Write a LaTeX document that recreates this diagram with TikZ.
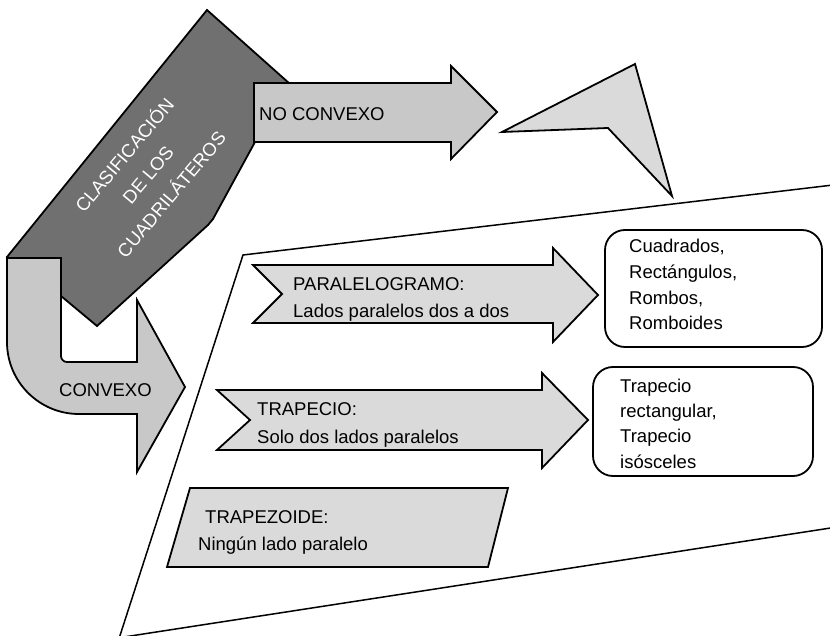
\documentclass[tikz,border=0pt]{standalone}
\usepackage{fontspec}
\setmainfont{Liberation Sans}
\definecolor{darkfill}{RGB}{112, 112, 112}
\definecolor{midfill}{RGB}{200, 200, 200}
\definecolor{lightfill}{RGB}{218, 218, 218}

\begin{document}
\begin{tikzpicture}[x=1pt, y=-1pt,
    darkpart/.style={draw, line width=1.8pt, fill=darkfill},
    midpart/.style={draw, line width=1.8pt, fill=midfill},
    lightpart/.style={draw, line width=1.8pt, fill=lightfill},
    roundbox/.style={draw, line width=1.8pt, rounded corners=20pt},
    txt/.style={anchor=base west, inner sep=0pt, align=left,
                font=\fontsize{18.5}{28}\selectfont}]
        \clip (0, 0) rectangle (830, 636);
        % marco
        \draw[line width=1.5pt] (850, 183) -- (243, 255) -- (119.3, 637.7) -- (850, 525);
        % titulo
        \draw[darkpart] (7, 257) -- (207, 10) -- (290, 84) -- (270, 120)
            -- (255, 142) -- (213, 219) -- (208, 225) -- (97, 326) -- (61, 296) -- cycle;
        \node[rotate=50, text=white, align=center,
              font=\fontsize{18.5}{30.6}\selectfont] (titulo) at (147, 174)
            {CLASIFICACIÓN\\DE LOS\\CUADRILÁTEROS};
        % no convexo
        \draw[midpart] (254, 83) -- (451, 83) -- (451, 66) -- (497, 112)
            -- (451, 159) -- (451, 142) -- (254, 142) -- cycle;
        \node[txt] (noconvexo) at (259, 121) {NO CONVEXO};
        \draw[lightpart] (502, 132) -- (635, 64) -- (672, 196) -- (608, 128) -- cycle;
        % convexo
        \draw[midpart] (7, 258) -- (61, 258) -- (61, 356)
            arc[start angle=180, end angle=270, radius=6pt] -- (137, 362)
            -- (137, 300) -- (185, 387) -- (137, 472) -- (137, 414) -- (79, 414)
            arc[start angle=270, end angle=180, radius=72pt] -- cycle;
        \node[txt] (convexo) at (59, 396) {CONVEXO};
        % paralelogramo
        \draw[lightpart] (253, 265) -- (553, 265) -- (553, 248) -- (598, 295)
            -- (553, 342) -- (553, 323) -- (253, 323) -- (282, 294) -- cycle;
        \node[txt] (paralelogramo) at (293, 318)
            {PARALELOGRAMO:\\Lados paralelos dos a dos};
        % trapecio
        \draw[lightpart] (217, 390) -- (542, 390) -- (542, 373) -- (588, 420)
            -- (542, 468) -- (542, 450) -- (217, 450) -- (250, 420) -- cycle;
        \node[txt] (trapecio) at (257, 443)
            {TRAPECIO:\\Solo dos lados paralelos};
        % trapezoide
        \draw[lightpart] (190, 488) -- (508, 488) -- (488, 567) -- (167, 567) -- cycle;
        \node[txt, font=\fontsize{18.5}{27}\selectfont] (trapezoide) at (198, 550)
            {\kern7pt TRAPEZOIDE:\\Ningún lado paralelo};
        % tipos
        \draw[roundbox] (605, 230) rectangle (822, 347);
        \node[txt, font=\fontsize{18.5}{25.7}\selectfont] (cuadrados) at (629, 330)
            {Cuadrados,\\Rectángulos,\\Rombos,\\Romboides};
        \draw[roundbox] (593, 367) rectangle (813, 476);
        \node[txt, font=\fontsize{18.5}{25.3}\selectfont] (trapecios) at (620, 468)
            {Trapecio\\rectangular,\\Trapecio\\isósceles};
\end{tikzpicture}
\end{document}
